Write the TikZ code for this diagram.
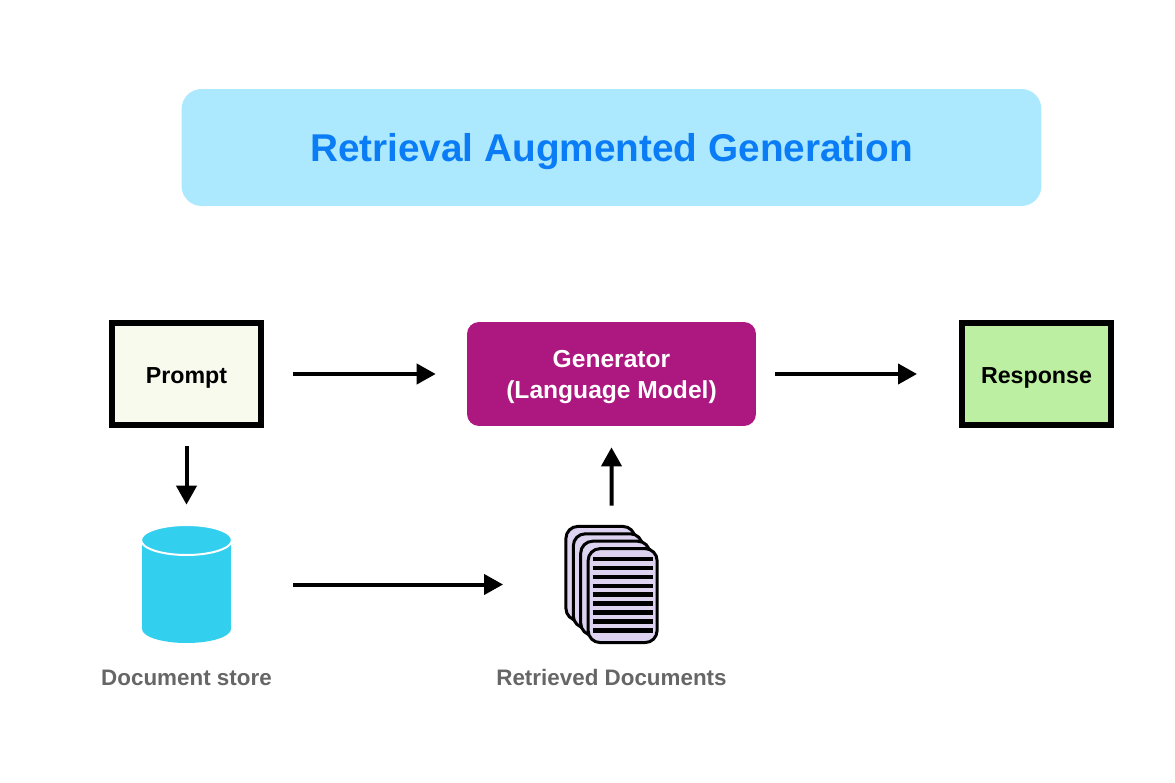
\documentclass[tikz,border=0pt]{standalone}
\usepackage{fontspec}
\setmainfont{Liberation Sans}
\usepackage{tikz}
\usetikzlibrary{shapes.geometric, arrows.meta, positioning, fit}
\definecolor{title_fill}{HTML}{ADE9FE}
\definecolor{title_text}{HTML}{0A7CF5}
\definecolor{prompt_fill}{HTML}{F8FAEE}
\definecolor{generator_fill}{HTML}{AD1780}
\definecolor{response_fill}{HTML}{BDEFA2}
\definecolor{store_fill}{HTML}{33CFEF}
\definecolor{page_fill}{HTML}{DDD3F1}
\definecolor{label_gray}{HTML}{666666}
\tikzset{
  title_box/.style={rectangle, fill=title_fill, text=title_text, rounded corners=0.4cm, minimum width=17.2cm, minimum height=2.34cm, text height=0.58cm, text depth=0pt, font=\fontsize{22.05}{26}\selectfont\bfseries},
  io_box/.style={rectangle, draw=black, line width=0.12cm, minimum width=2.98cm, minimum height=2.04cm, text height=0.4cm, text depth=0pt, font=\fontsize{13.2}{16}\selectfont\bfseries},
  generator_box/.style={rectangle, fill=generator_fill, text=white, rounded corners=0.24cm, minimum width=5.78cm, minimum height=2.08cm, align=center, text depth=0pt, font=\fontsize{14}{17.6}\selectfont\bfseries},
  store_body/.style={rectangle, fill=store_fill, minimum width=1.78cm, minimum height=1.78cm, inner sep=0pt},
  store_end/.style={ellipse, fill=store_fill, minimum width=1.78cm, minimum height=0.56cm, inner sep=0pt},
  store_top/.style={store_end, draw=white, line width=0.04cm, minimum width=1.82cm, minimum height=0.6cm},
  page_box/.style={rectangle, draw=black, fill=page_fill, line width=0.06cm, rounded corners=0.24cm, minimum width=1.38cm, minimum height=1.88cm, inner sep=0pt},
  page_line/.style={black, line width=0.09cm},
  caption_text/.style={text=label_gray, font=\fontsize{12.75}{15}\selectfont\bfseries},
  arrow/.style={-{Triangle[length=0.38cm, width=0.4cm]}, line width=0.08cm, black}
}

\begin{document}
\begin{tikzpicture}[x=0.02cm, y=-0.02cm]
  \useasboundingbox (0,0) rectangle (1175,783);

  % Title banner
  \node[title_box] (title) at (611.5,147.5) {Retrieval Augmented Generation};

  % Top row
  \node[io_box, fill=prompt_fill] (prompt) at (186.5,374) {Prompt};
  \node[generator_box] (generator) at (611.5,374) {Generator\\(Language Model)};
  \node[io_box, fill=response_fill] (response) at (1036.5,374) {Response};

  % Document store
  \node[store_end] (store_base) at (186.5,629) {};
  \node[store_body] (store) at (186.5,584.5) {};
  \node[store_top] (store_lid) at (186.5,540) {};
  \node[caption_text] (store_label) at (186.5,678) {Document store};

  % Stack of pages, back to front
  \foreach \i/\name in {0/page_a, 1/page_b, 2/page_c, 3/page_d} {
    \node[page_box] (\name) at ({600.4+7.4*\i},{573.4+7.4*\i}) {};
  }
  \foreach \n in {0,...,8} {
    \draw[page_line] ([xshift=0.12cm, yshift={-0.24cm-0.178cm*\n}]page_d.north west) -- ([xshift=-0.12cm, yshift={-0.24cm-0.178cm*\n}]page_d.north east);
  }
  \node[fit=(page_a)(page_d), inner sep=0pt] (docs) {};
  \node[caption_text] (docs_label) at (611.5,677.5) {Retrieved Documents};

  % Flow between the parts
  \draw[arrow, shorten <=0.58cm, shorten >=0.62cm] (prompt) -- (generator);
  \draw[arrow, shorten <=0.38cm, shorten >=0.84cm] (generator) -- (response);
  \draw[arrow, shorten <=0.36cm, shorten >=0.7cm] (prompt) -- (store);
  \draw[arrow, shorten <=1.24cm, shorten >=1.22cm] (store) -- (docs);
  \draw[arrow, shorten <=0.38cm, shorten >=0.42cm] (docs) -- (generator);

\end{tikzpicture}
\end{document}
